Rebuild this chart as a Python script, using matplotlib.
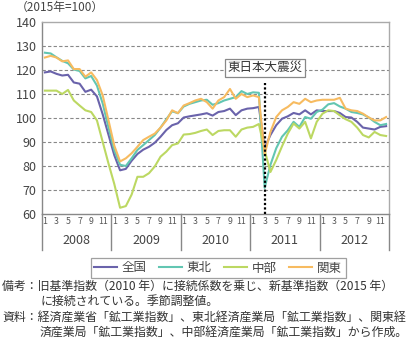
import numpy as np
import matplotlib
matplotlib.use("Agg")
import matplotlib.pyplot as plt
import matplotlib.transforms as mtransforms

plt.rcParams['font.family'] = ['Noto Sans CJK JP', 'DejaVu Sans']

# data: monthly index, Jan 2008 - Dec 2012 (2015=100)
years = ['2008', '2009', '2010', '2011', '2012']
month_labels = ['1', '3', '5', '7', '9', '11']

zenkoku = [119.0, 119.4, 118.4, 117.7, 118.0, 114.8, 114.3, 110.9, 111.8, 109.0, 101.5, 93.0,
           84.5, 78.2, 78.8, 82.2, 85.0, 86.8, 88.0, 89.7, 92.2, 95.0, 97.0, 97.8,
           100.2, 100.7, 101.1, 101.5, 102.0, 101.0, 102.5, 102.9, 103.9, 101.2, 103.2, 103.9,
           104.1, 104.6, 87.6, 92.9, 97.0, 99.7, 100.7, 102.1, 101.5, 103.2, 101.5, 103.2,
           102.9, 102.9, 102.9, 102.1, 100.4, 100.2, 98.4, 96.0, 95.6, 95.2, 96.3, 96.6]
tohoku = [127.2, 126.9, 125.3, 123.8, 122.8, 120.2, 119.6, 116.5, 117.5, 113.5, 106.0, 96.0,
          86.5, 80.5, 80.0, 83.2, 86.7, 88.7, 90.8, 92.9, 96.0, 99.5, 102.8, 102.0,
          104.8, 105.9, 106.6, 107.3, 107.6, 105.5, 106.2, 107.3, 108.0, 108.7, 111.2, 110.0,
          110.7, 110.5, 70.9, 80.5, 87.4, 92.2, 94.9, 98.4, 96.3, 100.4, 99.7, 102.5,
          103.5, 105.7, 106.2, 104.8, 103.9, 102.5, 102.1, 101.5, 100.2, 98.4, 97.0, 97.5]
chubu = [111.4, 111.4, 111.4, 110.0, 111.7, 107.3, 105.2, 103.2, 102.5, 99.0, 90.0, 81.0,
         72.5, 62.6, 63.3, 68.1, 75.5, 75.5, 77.0, 79.8, 83.9, 86.0, 88.7, 89.4,
         93.1, 93.3, 93.8, 94.6, 95.2, 92.9, 94.6, 94.9, 94.9, 92.2, 95.2, 96.0,
         96.3, 97.5, 86.5, 77.5, 82.5, 88.2, 93.5, 97.7, 95.6, 98.4, 91.5, 98.4,
         101.8, 103.2, 102.9, 101.1, 99.5, 98.4, 96.0, 92.9, 91.9, 94.2, 92.9, 92.5]
kanto = [125.2, 125.9, 125.2, 123.6, 124.0, 120.4, 120.4, 117.2, 119.0, 115.8, 109.4, 99.0,
         88.5, 81.9, 83.2, 85.3, 88.0, 90.8, 92.2, 93.5, 96.0, 99.0, 103.2, 102.0,
         105.2, 106.2, 107.3, 108.0, 106.6, 103.9, 107.3, 108.7, 112.1, 108.0, 110.0, 108.7,
         109.4, 108.7, 84.8, 94.2, 100.4, 103.2, 104.6, 106.6, 105.9, 108.0, 106.6, 107.3,
         107.6, 107.6, 107.6, 108.4, 103.9, 103.2, 102.9, 101.8, 100.2, 99.0, 99.0, 100.4]

series_names = ['全国', '東北', '中部', '関東']
colors = ['#6a63ab', '#62c6b2', '#bcd862', '#f7bb60']
quake_month = 38  # March 2011

W, H = 407, 341
fig = plt.figure(figsize=(W / 100, H / 100), dpi=100)
ax = fig.add_axes([42 / W, 1 - 214 / H, (389 - 42) / W, (214 - 22) / H])

x = np.arange(60) + 0.5
for vals, c, name in zip([zenkoku, tohoku, chubu, kanto], colors, series_names):
    ax.plot(x, vals, color=c, lw=1.5, label=name, zorder=3)

ax.set_xlim(0, 60)
ax.set_ylim(60, 140)
ax.set_yticks(range(60, 141, 10))
ax.tick_params(axis='y', length=0, pad=4, labelsize=9, labelcolor='#444444')
ax.set_xticks([])

# grid
for v in range(70, 140, 10):
    ax.axhline(v, color='#888888', lw=0.8, dashes=(3, 2), zorder=1)

for s in ['left', 'bottom']:
    ax.spines[s].set_color('#888888')
for s in ['top', 'right']:
    ax.spines[s].set_color('#aaaaaa')
for s in ax.spines.values():
    s.set_linewidth(1.0)

# month / year axis
trans = mtransforms.blended_transform_factory(ax.transData, ax.transAxes)
bot = -(250 - 214) / 192
for k in range(6):
    ax.plot([12 * k, 12 * k], [bot, 0], color='#888888', lw=1.0, transform=trans, clip_on=False)
for k, yr in enumerate(years):
    for j, ml in enumerate(month_labels):
        ax.text(12 * k + 2 * j + 0.5, -(222 - 214) / 192, ml, transform=trans,
                ha='center', va='center', fontsize=6.3, color='#555555')
    ax.text(12 * k + 6, -(240 - 214) / 192, yr, transform=trans,
            ha='center', va='center', fontsize=9, color='#444444')

# earthquake marker
qx = quake_month + 0.5
ax.plot([qx, qx], [60, 114.5], color='black', lw=1.6, ls=(0, (1, 1)), zorder=4)
ax.text(qx, 121, '東日本大震災', ha='center', va='center', fontsize=9, color='#333333', zorder=5,
        bbox=dict(boxstyle='square,pad=0.2', fc='white', ec='#888888', lw=0.9))

fig.text(16 / W, 1 - 7 / H, '（2015年=100）', ha='left', va='center', fontsize=8.5, color='#444444')

leg = fig.legend(loc='center', bbox_to_anchor=(218 / W, 1 - 268 / H), ncol=4, fontsize=9,
                 frameon=True, fancybox=False, edgecolor='#888888', handlelength=1.8,
                 handletextpad=0.4, columnspacing=1.0, borderpad=0.3)
leg.get_frame().set_linewidth(0.9)
for t in leg.get_texts():
    t.set_color('#444444')

notes = [
    (2, 286, '備考：旧基準指数（2010 年）に接続係数を乗じ、新基準指数（2015 年）'),
    (40, 301, 'に接続されている。季節調整値。'),
    (2, 317, '資料：経済産業省「鉱工業指数」、東北経済産業局「鉱工業指数」、関東経'),
    (40, 332, '済産業局「鉱工業指数」、中部経済産業局「鉱工業指数」から作成。'),
]
for nx, ny, txt in notes:
    fig.text(nx / W, 1 - ny / H, txt, ha='left', va='center', fontsize=8.6, color='#333333')

fig.savefig('out.png', dpi=100)
